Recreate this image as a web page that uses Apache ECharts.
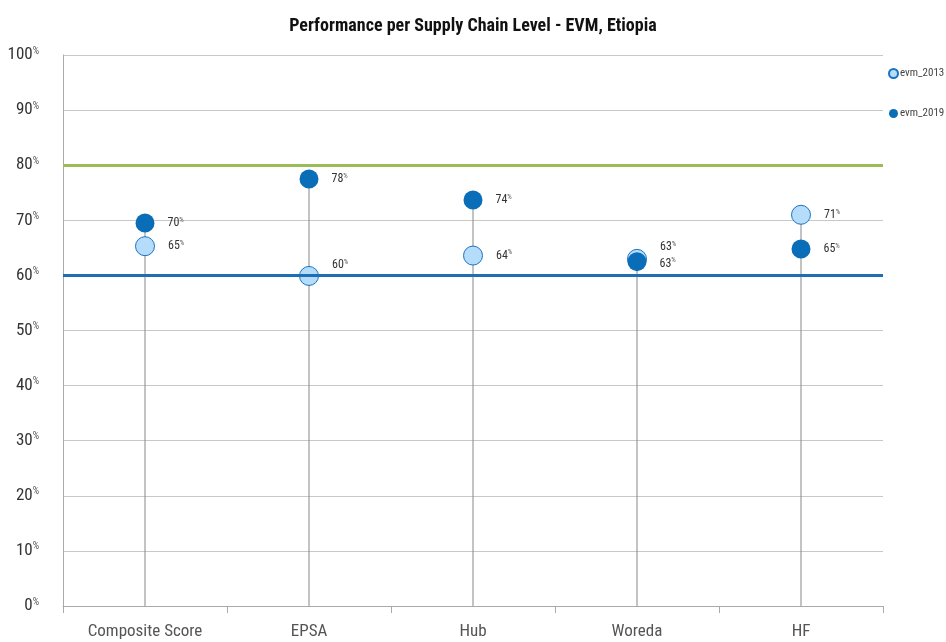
<!DOCTYPE html>
<html><head><meta charset="utf-8">
<script src="https://cdn.jsdelivr.net/npm/echarts@6/dist/echarts.min.js"></script>
<style>html,body{margin:0;padding:0;background:#fff}#c{width:946px;height:642px}</style>
</head><body><div id="c"></div>
<script>
const categories = ['Composite Score', 'EPSA', 'Hub', 'Woreda', 'HF'];
const evm2013 = [65.3, 59.9, 63.6, 63.0, 71.0];
const evm2019 = [69.5, 77.5, 73.7, 62.5, 64.8];
const yTicks = [0, 10, 20, 30, 40, 50, 60, 70, 80, 90, 100];
const targetHigh = 80;
const targetLow = 60;

const FONT = '"Liberation Sans Narrow", "Roboto Condensed", "Liberation Sans", sans-serif';
const stems = categories.map((c, i) => Math.max(evm2013[i], evm2019[i]));

function pctLabel() {
  return {
    show: true, position: 'right', distance: 13,
    formatter: p => '{v|' + Math.round(p.value) + '}{s|%}',
    rich: {
      v: { fontFamily: FONT, fontSize: 12, color: '#333' },
      s: { fontFamily: FONT, fontSize: 7, color: '#555', verticalAlign: 'top', padding: [0, 0, 6, 0] }
    }
  };
}
const offsets2013 = { 1: [0, -11], 3: [0, -12] };
const offsets2019 = { 3: [0, 2] };

const chart = echarts.init(document.getElementById('c'), null, { renderer: 'canvas' });
chart.setOption({
  animation: false,
  title: {
    text: 'Performance per Supply Chain Level - EVM, Etiopia',
    left: 'center', top: 12,
    textStyle: { fontFamily: FONT, fontSize: 18, fontWeight: 'bold', color: '#111' }
  },
  legend: {
    orient: 'vertical', left: 883, top: 63, itemGap: 29,
    icon: 'circle', itemWidth: 9, itemHeight: 9,
    data: ['evm_2013', 'evm_2019'],
    textStyle: { fontFamily: FONT, fontSize: 11, color: '#444', padding: [0, 0, 0, -3] }
  },
  grid: { left: 63, right: 63, top: 55, bottom: 36, containLabel: false },
  xAxis: {
    type: 'category', data: categories, boundaryGap: true,
    axisLine: { lineStyle: { color: '#aaa' } },
    axisTick: { show: true, length: 7, lineStyle: { color: '#aaa' } },
    axisLabel: { fontFamily: FONT, fontSize: 17, color: '#555', margin: 17 }
  },
  yAxis: {
    type: 'value', min: 0, max: 100, interval: 10,
    axisLine: { show: true, lineStyle: { color: '#aaa' } },
    axisTick: { show: false },
    splitLine: { lineStyle: { color: '#c8c8c8' } },
    axisLabel: {
      margin: 24,
      formatter: v => '{v|' + v + '}{s|%}',
      rich: {
        v: { fontFamily: FONT, fontSize: 17, color: '#333' },
        s: { fontFamily: FONT, fontSize: 10, color: '#555', verticalAlign: 'top', padding: [0, 0, 8, 0] }
      }
    }
  },
  series: [
    {
      name: 'stem', type: 'bar', data: stems, barWidth: 1,
      itemStyle: { color: '#888' }, silent: true, z: 1,
      markLine: {
        silent: true, symbol: 'none', label: { show: false },
        data: [
          { yAxis: targetHigh, lineStyle: { color: '#9bbb59', width: 3, type: 'solid' } },
          { yAxis: targetLow, lineStyle: { color: '#1f6db5', width: 3, type: 'solid' } }
        ]
      }
    },
    {
      name: 'evm_2013', type: 'scatter',
      data: evm2013.map((v, i) => offsets2013[i] ? { value: v, label: { offset: offsets2013[i] } } : v),
      symbolSize: 19, z: 3,
      itemStyle: { color: '#b6dcfb', borderColor: '#1a73c0', borderWidth: 1, opacity: 1 },
      label: pctLabel()
    },
    {
      name: 'evm_2019', type: 'scatter',
      data: evm2019.map((v, i) => offsets2019[i] ? { value: v, label: { offset: offsets2019[i] } } : v),
      symbolSize: 19, z: 4,
      itemStyle: { color: '#0a6db8', opacity: 1 },
      label: pctLabel()
    }
  ]
});
</script></body></html>
